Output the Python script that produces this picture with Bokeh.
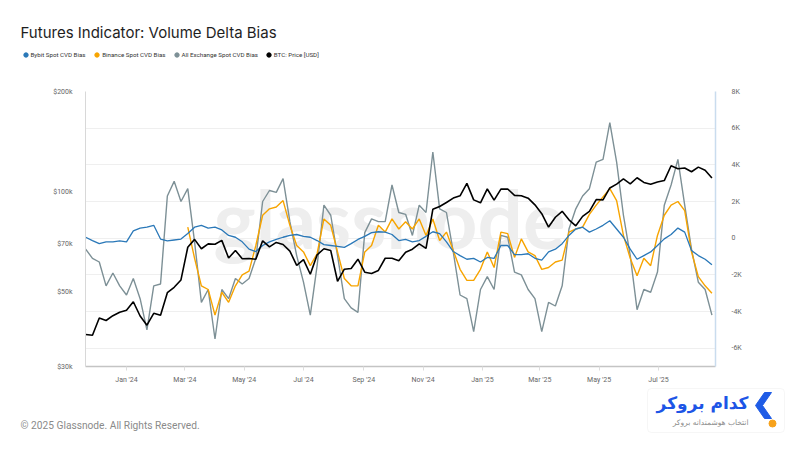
import numpy as np
import pandas as pd
from bokeh.plotting import figure
from bokeh.layouts import column, row
from bokeh.models import (Range1d, LinearAxis, LinearScale, FixedTicker, Grid, Legend, LegendItem,
                          Label, ColumnDataSource, BoxAnnotation, DatetimeTickFormatter)
from bokeh.embed import file_html
from bokeh.resources import INLINE

# ---------------- data (weekly samples) ----------------
START_DATE = "2023-11-20"
N_WEEKS = 93
dates = pd.date_range(START_DATE, periods=N_WEEKS, freq="7D")

# Bybit Spot CVD Bias (thousands)
bybit = [0.05, -0.13, -0.3, -0.2, -0.2, -0.15, -0.2, 0.4, 0.55, 0.6,
         0.7, -0.05, -0.15, -0.1, -0.05, 0.25, 0.6, 0.7, 0.55, 0.6,
         0.45, 0.15, 0.05, -0.2, -0.6, -0.73, -0.4, -0.2, -0.07, 0.05,
         0.15, 0.2, 0.1, 0.05, -0.13, -0.35, -0.4, -0.45, -0.5, -0.3,
         -0.07, 0.1, 0.3, 0.35, 0.33, 0.2, -0.13, -0.07, -0.2, -0.13,
         0.1, 0.35, 0.25, -0.2, -0.73, -0.95, -1.15, -1.1, -1.3, -1.05,
         -1.1, -0.4, -0.4, -0.9, -0.9, -0.85, -1.1, -1.2, -0.75, -0.6,
         -0.3, 0.15, 0.5, 0.6, 0.33, 0.5, 0.7, 0.95, 0.5, 0.05,
         -0.6, -1.15, -0.95, -0.75, -0.4, -0.04, 0.2, 0.55, 0.33, -0.67,
         -0.95, -1.15, -1.45]

# Binance Spot CVD Bias (thousands), starts in March 2024
binance = [None] * 15 + [
    0.6, -1.1, -2.6, -2.8, -4.2, -2.95, -3.5, -2.6, -2.0, -1.8,
    -0.4, 1.25, 1.6, 1.7, 2.05, 0.7, -0.4, -0.75, -1.5, -0.85,
    1.05, 0.7, -0.75, -2.2, -2.6, -2.6, -0.75, -0.4, 0.7, 0.33,
    1.05, 0.5, 0.9, 0.5, 1.05, 0.15, 1.05, -0.13, 0.33, -0.67,
    -1.7, -2.3, -2.3, -1.7, -0.75, -1.6, 0.33, 0.25, -1.05, -0.04,
    -0.75, -0.95, -1.7, -1.6, -1.3, -1.2, 0.33, 0.5, 0.6, 1.3,
    1.8, 2.25, 2.7, 2.05, 0.15, -1.1, -2.05, -1.1, -1.5, 0.15,
    1.25, 1.8, 2.0, 1.5, -0.75, -2.1, -2.6, -3.0]

# All Exchange Spot CVD Bias (thousands)
all_exchange = [-0.6, -1.1, -1.3, -2.6, -1.9, -2.6, -3.1, -2.2, -3.3, -5.0,
                -2.6, -2.5, 2.3, 3.1, 2.0, 2.7, -0.2, -3.5, -2.8, -5.5,
                -2.8, -3.3, -2.2, -2.5, -2.2, -1.1, 2.0, 2.6, 2.5, 3.25,
                0.9, -0.95, -2.4, -4.2, -1.5, 1.8, 1.25, -0.95, -3.3, -3.8,
                -4.05, 0.3, 1.05, 0.9, 0.9, 2.9, 1.4, 1.3, 0.15, 1.8,
                1.4, 4.7, 1.6, 1.4, -0.75, -3.1, -3.3, -5.1, -2.8, -2.1,
                -2.8, 0.15, 0.05, -1.85, -2.0, -2.8, -3.3, -5.1, -3.5, -3.7,
                -2.6, 0.5, 1.6, 2.3, 2.7, 4.15, 4.3, 6.3, 4.15, 1.25,
                -0.95, -3.9, -2.8, -2.95, -1.85, 1.8, 2.9, 4.3, 1.8, -0.6,
                -2.4, -2.8, -4.2]

# BTC price (USD)
btc_price = [37400, 37200, 41900, 41200, 42600, 43600, 44200, 46900, 42500, 39900,
             43300, 42700, 49900, 51800, 54500, 68300, 72100, 67600, 69900, 69700,
             71600, 63400, 66800, 63100, 63200, 62900, 71400, 68500, 70600, 69600,
             66500, 60300, 62700, 56700, 64800, 67600, 66800, 54000, 58700, 59000,
             62900, 57500, 57000, 58200, 63300, 63300, 62200, 66000, 67400, 69900,
             67800, 88700, 90500, 93000, 95900, 97400, 106100, 94700, 92800, 102100,
             94500, 102000, 102100, 97700, 97400, 95800, 91500, 86100, 78500, 84000,
             87500, 82500, 79200, 84500, 87500, 94900, 94700, 102800, 105600, 109400,
             105800, 110300, 106800, 105400, 107100, 108200, 119800, 117400, 118000, 115000,
             118700, 116200, 110100]

price_ticks = [30000, 50000, 70000, 100000, 200000]
price_tick_labels = ["$30k", "$50k", "$70k", "$100k", "$200k"]
cvd_ticks = [-6, -4, -2, 0, 2, 4, 6, 8]
cvd_tick_labels = ["-6K", "-4K", "-2K", "0", "2K", "4K", "6K", "8K"]
month_ticks = ["2024-01-01", "2024-03-01", "2024-05-01", "2024-07-01", "2024-09-01",
               "2024-11-01", "2025-01-01", "2025-03-01", "2025-05-01", "2025-07-01"]

series_names = ["Bybit Spot CVD Bias", "Binance Spot CVD Bias",
                "All Exchange Spot CVD Bias", "BTC: Price [USD]"]

# ---------------- styles ----------------
C_BLUE = "#2a78b8"
C_ORANGE = "#f7a400"
C_GRAY = "#7d9096"
C_BLACK = "#000000"
FONT = "Roboto"
W = 800


def bare_fig(h, yr):
    f = figure(width=W, height=h, x_range=Range1d(0, W), y_range=Range1d(0, yr),
               min_border=0, min_border_left=0, min_border_right=0,
               min_border_top=0, min_border_bottom=0,
               toolbar_location=None, output_backend="svg",
               x_axis_location=None, y_axis_location=None)
    f.outline_line_color = None
    f.background_fill_color = "white"
    f.border_fill_color = "white"
    f.grid.visible = False
    return f


# ---------------- header: title + legend ----------------
top = bare_fig(86, 86)
top.add_layout(Label(x=20, y=54, text="Futures Indicator: Volume Delta Bias",
                     text_font="Inter", text_font_size="15px", text_color="#1e1e1e",
                     text_baseline="alphabetic"))
legend_colors = [C_BLUE, C_ORANGE, C_GRAY, C_BLACK]
legend_x = [19.5, 91.2, 170.5, 262.8]
hidden = ColumnDataSource(dict(x=[-100], y=[-100]))   # off-canvas point, only for legend swatches
for name, col, lx in zip(series_names, legend_colors, legend_x):
    r = top.scatter("x", "y", source=hidden, color=col, size=4)
    lg = Legend(items=[LegendItem(label=name, renderers=[r])], location=(lx, 26),
                orientation="horizontal", background_fill_alpha=0, border_line_color=None,
                padding=0, margin=0, spacing=0, label_standoff=0,
                glyph_width=11, glyph_height=11, label_height=11,
                label_text_font=FONT, label_text_font_size="6.2px",
                label_text_color="#333333")
    top.add_layout(lg, "center")

# ---------------- main chart ----------------
src = ColumnDataSource(dict(
    date=dates,
    bybit=np.array(bybit, dtype=float),
    binance=np.array([np.nan if v is None else v for v in binance], dtype=float),
    allx=np.array(all_exchange, dtype=float),
    price=np.array(btc_price, dtype=float),
))

p = figure(width=W, height=300, x_axis_type="datetime", y_axis_type="log",
           x_range=Range1d(pd.Timestamp("2023-11-19 20:00"), pd.Timestamp("2025-08-28 16:00")),
           y_range=Range1d(30000, 200000),
           output_backend="svg", toolbar_location=None, title=None,
           min_border_left=85, min_border_right=85, min_border_top=5, min_border_bottom=20)
p.outline_line_color = None
p.background_fill_color = "white"
p.border_fill_color = "white"
p.extra_y_ranges = {"cvd": Range1d(-7, 8)}
p.extra_y_scales = {"cvd": LinearScale()}

p.xgrid.grid_line_color = None
p.ygrid.grid_line_color = None
cvd_ticker = FixedTicker(ticks=cvd_ticks)
p.add_layout(Grid(dimension=1, ticker=cvd_ticker, y_range_name="cvd",
                  grid_line_color="#efefef", grid_line_width=1))

# watermark
p.add_layout(Label(x=304, y=149, x_units="screen", y_units="screen", text="glassnode",
                   text_font="Lato", text_font_size="80px", text_font_style="bold",
                   text_color="#eeeeee",
                   text_align="center", text_baseline="middle", level="underlay"))

ya = p.yaxis[0]
ya.ticker = FixedTicker(ticks=price_ticks)
ya.major_label_overrides = {t: l for t, l in zip(price_ticks, price_tick_labels)}
ya.axis_line_color = "#d8d8d8"
ya.major_tick_line_color = None
ya.minor_tick_line_color = None
ya.major_label_text_font_size = "7px"
ya.major_label_text_font = FONT
ya.major_label_text_color = "#666666"
ya.major_label_standoff = 7

ra = LinearAxis(y_range_name="cvd", ticker=cvd_ticker)
ra.major_label_overrides = {t: l for t, l in zip(cvd_ticks, cvd_tick_labels)}
ra.axis_line_color = "#c9dcee"
ra.axis_line_width = 1.5
ra.major_tick_line_color = None
ra.minor_tick_line_color = None
ra.major_label_text_font_size = "7px"
ra.major_label_text_font = FONT
ra.major_label_text_color = "#666666"
ra.major_label_standoff = 10
p.add_layout(ra, "right")

xa = p.xaxis[0]
xa.ticker = FixedTicker(ticks=[pd.Timestamp(d).value // 10**6 for d in month_ticks])
xa.formatter = DatetimeTickFormatter(days="%b '%y", months="%b '%y", years="%b '%y")
xa.axis_line_color = "#c4c4c4"
xa.axis_line_width = 1.5
xa.major_tick_line_color = "#dddddd"
xa.major_tick_out = 4
xa.major_tick_in = 0
xa.minor_tick_line_color = None
xa.major_label_text_font_size = "7px"
xa.major_label_text_font = FONT
xa.major_label_text_color = "#666666"
xa.major_label_standoff = 5

p.line("date", "allx", source=src, y_range_name="cvd", color=C_GRAY, line_width=1.4)
p.line("date", "binance", source=src, y_range_name="cvd", color=C_ORANGE, line_width=1.4)
p.line("date", "bybit", source=src, y_range_name="cvd", color=C_BLUE, line_width=1.3)
p.line("date", "price", source=src, color=C_BLACK, line_width=1.6)

# ---------------- footer: copyright + brand box ----------------
bot = bare_fig(64, 64)
bot.add_layout(Label(x=20, y=25, text="© 2025 Glassnode. All Rights Reserved.",
                     text_font=FONT, text_font_size="10.2px", text_color="#8a8a8a",
                     text_baseline="middle"))
bot.add_layout(BoxAnnotation(left=647, right=784, bottom=18, top=62,
                             fill_color="white", fill_alpha=1.0, border_radius=4,
                             line_color="#e2e2e2", line_width=1, level="underlay"))
bot.patch(x=[755, 764, 771, 762, 771, 764], y=[45, 58, 58, 45, 32, 32],
          fill_color="#1f5ce6", line_color="#1f5ce6")
bot.scatter(x=[772], y=[27], size=7, color="#f7a21b")
bot.add_layout(Label(x=748, y=48, text="کدام بروکر", text_font="DejaVu Sans",
                     text_font_size="17px", text_font_style="bold", text_color="#1d55e6",
                     text_align="right", text_baseline="middle"))
bot.add_layout(Label(x=748, y=28, text="انتخاب هوشمندانه بروکر", text_font="DejaVu Sans",
                     text_font_size="7.5px", text_color="#8c8c8c",
                     text_align="right", text_baseline="middle"))

layout = column(row(top), p, row(bot), spacing=0)
open("out.html", "w").write(file_html(layout, INLINE))
